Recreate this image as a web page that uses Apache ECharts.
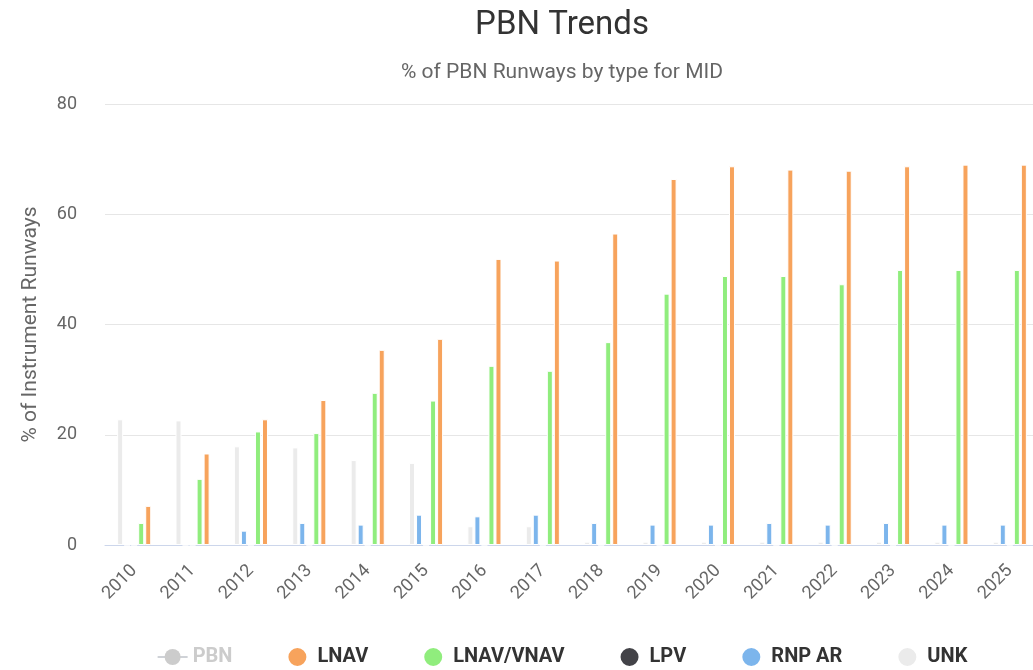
<!DOCTYPE html>
<html>
<head>
<meta charset="utf-8">
<title>PBN Trends</title>
<script src="https://cdn.jsdelivr.net/npm/echarts@6/dist/echarts.min.js"></script>
<style>
  html, body { margin: 0; padding: 0; background: #fff; overflow: hidden; }
  .chart-container { width: 1124px; height: 670px; }
</style>
</head>
<body>
<div id="chart" class="chart-container"></div>
<script>
const years = ['2010', '2011', '2012', '2013', '2014', '2015', '2016', '2017',
  '2018', '2019', '2020', '2021', '2022', '2023', '2024', '2025']

// PBN series is switched off in the legend, so none of its values are visible
const pbn = []
const lnav = [7.1, 16.6, 22.8, 26.3, 35.4, 37.4, 51.9, 51.6, 56.5, 66.4, 68.7, 68.1, 67.9, 68.7, 69.0, 69.0]
const lnavVnav = [4.0, 12.0, 20.6, 20.3, 27.6, 26.2, 32.5, 31.6, 36.8, 45.6, 48.8, 48.8, 47.3, 49.9, 49.9, 49.9]
const lpv = [0, 0, 0, 0, 0, 0, 0, 0, 0, 0, 0, 0, 0, 0, 0, 0]
const rnpAr = [0, 0, 2.6, 4.0, 3.7, 5.5, 5.2, 5.5, 4.0, 3.7, 3.7, 4.0, 3.7, 4.0, 3.7, 3.7]
const unk = [22.8, 22.6, 17.9, 17.7, 15.4, 14.9, 3.4, 3.4, 0.6, 0.6, 0.6, 0.6, 0.6, 0.6, 0.6, 0.6]

const legendNames = ['PBN', 'LNAV', 'LNAV/VNAV', 'LPV', 'RNP AR', 'UNK']
const yTicks = { min: 0, max: 80, interval: 20 }

const font = 'Roboto, "Noto Sans", sans-serif'

function barSeries(name, data, color) {
  return {
    name: name,
    type: 'bar',
    data: data,
    barWidth: 6,
    barGap: '17%',
    itemStyle: { color: color, borderColor: '#ffffff', borderWidth: 1 }
  }
}

let chart = null

function initChart() {
  chart = echarts.init(document.getElementById('chart'))
  const option = {
    animation: false,
    backgroundColor: '#ffffff',
    textStyle: { fontFamily: font },
    title: [
      {
        text: 'PBN Trends',
        left: 'center',
        top: 4,
        textStyle: { fontFamily: font, fontSize: 33, fontWeight: 'normal', color: '#333333' }
      },
      {
        text: '% of PBN Runways by type for MID',
        left: 'center',
        top: 57,
        textStyle: { fontFamily: font, fontSize: 21, fontWeight: 'normal', color: '#666666' }
      }
    ],
    legend: {
      data: legendNames.map(n => n === 'PBN' ? { name: n } : { name: n, icon: 'circle' }),
      selected: { PBN: false },
      left: 'center',
      top: 641,
      itemWidth: 30,
      itemHeight: 20,
      itemGap: 54,
      symbolKeepAspect: true,
      inactiveColor: '#cccccc',
      textStyle: { fontFamily: font, fontSize: 20, fontWeight: 'bold', color: '#333333' }
    },
    grid: { left: 105, right: 85, top: 104, bottom: 125 },
    xAxis: {
      type: 'category',
      data: years,
      axisLine: { lineStyle: { color: '#ccd6eb' } },
      axisTick: { show: false },
      axisLabel: { rotate: 45, margin: 23, fontSize: 18, color: '#666666', fontFamily: font }
    },
    yAxis: {
      type: 'value',
      min: yTicks.min,
      max: yTicks.max,
      interval: yTicks.interval,
      name: '% of Instrument Runways',
      nameLocation: 'middle',
      nameGap: 64,
      nameTextStyle: { fontSize: 21, color: '#666666', fontFamily: font },
      axisLabel: { margin: 28, fontSize: 18, color: '#666666', fontFamily: font },
      splitLine: { lineStyle: { color: '#e6e6e6' } }
    },
    series: [
      {
        name: 'PBN',
        type: 'line',
        data: pbn,
        symbol: 'circle',
        itemStyle: { color: '#b0b0b0' },
        lineStyle: { color: '#b0b0b0' }
      },
      barSeries('UNK', unk, '#ebebeb'),
      barSeries('RNP AR', rnpAr, '#7cb5ec'),
      barSeries('LPV', lpv, '#434348'),
      barSeries('LNAV/VNAV', lnavVnav, '#90ed7d'),
      barSeries('LNAV', lnav, '#f7a35c')
    ]
  }
  chart.setOption(option)
}

initChart()
window.addEventListener('resize', () => chart && chart.resize())
</script>
</body>
</html>
